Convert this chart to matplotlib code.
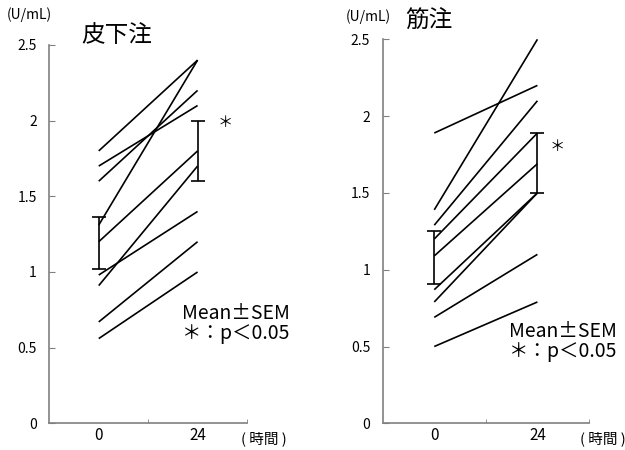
import numpy as np
import matplotlib
matplotlib.use("Agg")
import matplotlib.pyplot as plt

plt.rcParams['font.family'] = ['Noto Sans CJK JP', 'DejaVu Sans']

# data (U/mL), time 0 h and 24 h
time_labels = ['0', '24']
sc_start = [1.80, 1.70, 1.60, 1.31, 1.20, 0.98, 0.91, 0.67, 0.56]
sc_end = [2.40, 2.10, 2.20, 2.40, 1.80, 1.40, 1.70, 1.20, 1.00]
sc_sem = [0.17, 0.20]

im_start = [1.89, 1.39, 1.29, 1.20, 1.09, 0.87, 0.79, 0.69, 0.50]
im_end = [2.20, 2.50, 2.10, 1.89, 1.69, 1.50, 1.50, 1.10, 0.79]
im_sem = [0.17, 0.195]

axis_gray = '#808080'

fig = plt.figure(figsize=(6.25, 4.5), dpi=100)
ax1 = fig.add_axes([0.0789, 0.0593, 0.3163, 0.8407])
ax2 = fig.add_axes([0.6123, 0.0593, 0.3301, 0.8533])


def draw_panel(ax, start, end, sem, title, title_xy, star_xy, note_xy, unit_xy, hour_xy):
    for s, e in zip(start, end):
        ax.plot([0, 1], [s, e], color='black', lw=1.2, solid_capstyle='butt')
    means = [np.mean(start), np.mean(end)]
    ax.errorbar([0, 1], means, yerr=sem, fmt='none', ecolor='black',
                elinewidth=1.2, capsize=5, capthick=1.2)

    ax.set_xlim(-0.5, 1.5)
    ax.set_ylim(0, 2.5)
    for side in ['top', 'right']:
        ax.spines[side].set_visible(False)
    for side in ['left', 'bottom']:
        ax.spines[side].set_color(axis_gray)
        ax.spines[side].set_linewidth(1.2)

    ax.set_yticks([0, 0.5, 1, 1.5, 2, 2.5])
    ax.set_yticklabels(['0', '0.5', '1', '1.5', '2', '2.5'])
    ax.tick_params(axis='y', direction='in', length=4, color=axis_gray,
                   labelsize=10, pad=9)
    ax.set_xticks([0, 1])
    ax.set_xticklabels(time_labels)
    ax.tick_params(axis='x', length=0, labelsize=11, pad=3)
    ax.set_xticks([0.5, 1.5], minor=True)
    ax.tick_params(axis='x', which='minor', direction='in', length=3, color=axis_gray)

    ax.text(title_xy[0], title_xy[1], title, fontsize=17, ha='center', va='center',
            clip_on=False)
    ax.text(star_xy[0], star_xy[1], '＊', fontsize=11, ha='center', va='center')
    ax.text(note_xy[0], note_xy[1], 'Mean±SEM\n＊：p＜0.05', fontsize=14,
            ha='center', va='center', linespacing=0.95)
    ax.text(unit_xy[0], unit_xy[1], '(U/mL)', fontsize=10, ha='center', va='center',
            clip_on=False)
    ax.text(hour_xy[0], hour_xy[1], '( 時間 )', fontsize=10.5, ha='left', va='center',
            clip_on=False)


draw_panel(ax1, sc_start, sc_end, sc_sem, '皮下注',
           (0.18, 2.56), (1.28, 1.99), (1.39, 0.66), (-0.70, 2.70), (1.444, -0.105))
draw_panel(ax2, im_start, im_end, im_sem, '筋注',
           (-0.05, 2.62), (1.19, 1.80), (1.25, 0.535), (-0.64, 2.645), (1.415, -0.103))

fig.savefig('out.png', dpi=100)
